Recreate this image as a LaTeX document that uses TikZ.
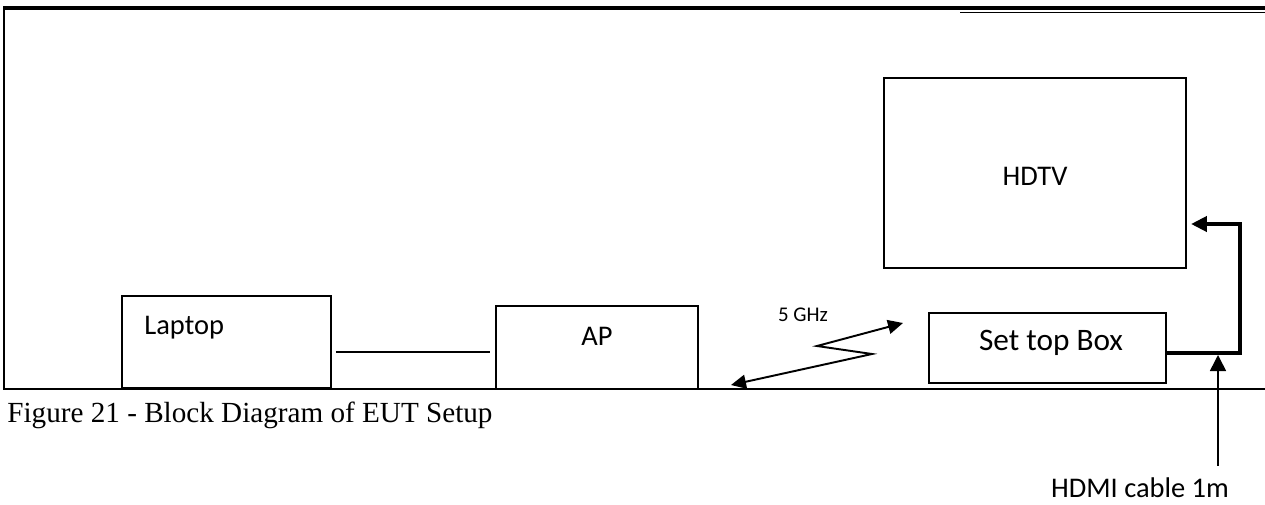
\documentclass[tikz,border=0pt]{standalone}
\usepackage{fontspec}
\setmainfont{Carlito}
\newfontfamily\capfont{Liberation Serif}
\usetikzlibrary{arrows.meta}

\begin{document}
\begin{tikzpicture}[x=0.02cm,y=-0.02cm,
    box/.style={draw,line width=0.85pt,inner sep=0pt,outer sep=0pt},
    lbl/.style={inner sep=0pt,font=\fontsize{16.2}{19}\selectfont},
    cable/.style={line width=2.8pt,-{Triangle[length=0.32cm,width=0.3cm]}}]
  \useasboundingbox (0,0) rectangle (1265,504);
  % frame of the figure
  \draw[line width=1.9pt] (3,8) -- (1265,8);
  \draw[line width=0.6pt] (960,12.5) -- (1265,12.5);
  \draw[line width=1.1pt] (4,8) -- (4,389) -- (1265,389);
  % the four units
  \node[box,minimum width=4.18cm,minimum height=1.84cm] (laptop) at (226.5,342) {};
  \node[box,minimum width=4.04cm,minimum height=1.66cm] (ap) at (597,347.5) {};
  \node[box,minimum width=4.74cm,minimum height=1.40cm] (stb) at (1047.5,348) {};
  \node[box,minimum width=6.04cm,minimum height=3.80cm] (hdtv) at (1035,173) {};
  \node[lbl,anchor=base west] (laptoptext) at (144,334) {Laptop};
  \node[lbl,anchor=base] (aptext) at (597,345) {AP};
  \node[lbl,anchor=base,font=\fontsize{17.8}{21}\selectfont] (stbtext) at (1051,350) {Set top Box};
  \node[lbl,anchor=base] (hdtvtext) at (1035,185) {HDTV};
  % wired link
  \draw[line width=1.5pt,shorten <=0.1cm,shorten >=0.12cm] (laptop.east |- 0,352) -- (ap.west |- 0,352);
  % wireless link
  \coordinate (w1) at (731,385);
  \coordinate (w2) at (872,354);
  \coordinate (w3) at (817,346);
  \coordinate (w4) at (903,323);
  \draw[line width=1.1pt,{Triangle[length=0.3cm,width=0.28cm]}-{Triangle[length=0.3cm,width=0.28cm]}]
    (w1) -- (w2) -- (w3) -- (w4);
  \node[inner sep=0pt,font=\fontsize{11.9}{14}\selectfont] (ghz) at (803,315) {5 GHz};
  % hdmi cable
  \draw[cable,shorten >=0.1cm] (stb.east |- 0,353) -- (1240,353) -- (1240,224) -- (hdtv.east |- 0,224);
  \coordinate (hdmijoin) at (1218,355);
  \node[lbl,anchor=base] (hdmi) at (1140,497) {HDMI cable 1m};
  \draw[line width=0.9pt,-{Triangle[length=0.32cm,width=0.32cm]},shorten <=0.22cm] (hdmi.north -| hdmijoin) -- (hdmijoin);
  \node[inner sep=0pt,anchor=base west,font=\capfont\fontsize{16.6}{19}\selectfont] (caption) at (7,422)
    {Figure 21 - Block Diagram of EUT Setup};
\end{tikzpicture}
\end{document}
